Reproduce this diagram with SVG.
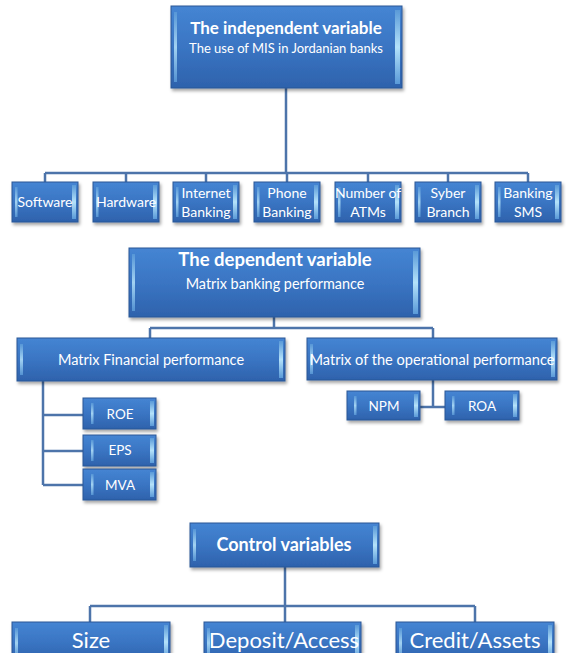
<svg xmlns="http://www.w3.org/2000/svg" width="566" height="653" viewBox="0 0 566 653">
<defs>
<linearGradient id="g" x1="0" y1="0" x2="0" y2="1">
<stop offset="0" stop-color="#4585d3"/>
<stop offset="0.5" stop-color="#3a75c3"/>
<stop offset="1" stop-color="#2e62ac"/>
</linearGradient>
<linearGradient id="side" x1="0" y1="0" x2="0" y2="1">
<stop offset="0" stop-color="#5a9ad8"/>
<stop offset="0.5" stop-color="#b4e2fa"/>
<stop offset="1" stop-color="#5a9ad8"/>
</linearGradient>
<filter id="sh" x="-10%" y="-10%" width="120%" height="130%">
<feDropShadow dx="1.5" dy="2.5" stdDeviation="1.5" flood-color="#000" flood-opacity="0.35"/>
</filter>
</defs>
<style>
.b{fill:url(#g);stroke:#2a5796;stroke-width:1;filter:url(#sh)}
.sl{fill:url(#side);opacity:0.85}
.sr{fill:url(#side)}
.t{fill:#ffffff;font-family:Lato,"Open Sans",sans-serif;text-anchor:middle}
.bold{font-weight:bold}
.c{fill:none;stroke:#4d74aa;stroke-width:2.5}
</style>

<g id="connectors">
<path class="c" d="M286 88V173M45 173H528M45 173V182M126 173V182M206 173V182M287 173V182M368 173V182M448 173V182M528 173V182"/>
<path class="c" d="M274 317V328M150 328H433M150 328V338M433 328V338"/>
<path class="c" d="M43 381V485M43 415H83M43 451H83M43 485H83"/>
<path class="c" d="M433 380V407M420 407H445"/>
<path class="c" d="M285 567V606M90 606H475M90 606V622M285 606V622M475 606V622"/>
</g>

<g id="independent">
<rect class="b" x="171" y="6" width="231" height="82"/>
<rect class="sl" x="174" y="12" width="3" height="70"/>
<rect class="sr" x="395" y="10" width="5" height="74"/>
<text class="t bold" x="286" y="34" font-size="17">The independent variable</text>
<text class="t" x="286" y="53" font-size="13">The use of MIS in Jordanian banks</text>
</g>

<g id="software">
<rect class="b" x="12" y="182" width="66" height="40"/>
<rect class="sl" x="15" y="187" width="2.5" height="30"/>
<rect class="sr" x="72" y="185" width="4" height="34"/>
<text class="t" x="45" y="207" font-size="14">Software</text>
</g>
<g id="hardware">
<rect class="b" x="93" y="182" width="66" height="40"/>
<rect class="sl" x="96" y="187" width="2.5" height="30"/>
<rect class="sr" x="153" y="185" width="4" height="34"/>
<text class="t" x="126" y="207" font-size="14">Hardware</text>
</g>
<g id="internet">
<rect class="b" x="173" y="182" width="66" height="40"/>
<rect class="sl" x="176" y="187" width="2.5" height="30"/>
<rect class="sr" x="233" y="185" width="4" height="34"/>
<text class="t" x="206" y="198" font-size="14">Internet</text>
<text class="t" x="206" y="217" font-size="14">Banking</text>
</g>
<g id="phone">
<rect class="b" x="254" y="182" width="66" height="40"/>
<rect class="sl" x="257" y="187" width="2.5" height="30"/>
<rect class="sr" x="314" y="185" width="4" height="34"/>
<text class="t" x="287" y="198" font-size="14">Phone</text>
<text class="t" x="287" y="217" font-size="14">Banking</text>
</g>
<g id="atms">
<rect class="b" x="335" y="182" width="66" height="40"/>
<rect class="sl" x="338" y="187" width="2.5" height="30"/>
<rect class="sr" x="395" y="185" width="4" height="34"/>
<text class="t" x="368" y="198" font-size="14">Number of</text>
<text class="t" x="368" y="217" font-size="14">ATMs</text>
</g>
<g id="syber">
<rect class="b" x="415" y="182" width="66" height="40"/>
<rect class="sl" x="418" y="187" width="2.5" height="30"/>
<rect class="sr" x="475" y="185" width="4" height="34"/>
<text class="t" x="448" y="198" font-size="14">Syber</text>
<text class="t" x="448" y="217" font-size="14">Branch</text>
</g>
<g id="sms">
<rect class="b" x="495" y="182" width="66" height="40"/>
<rect class="sl" x="498" y="187" width="2.5" height="30"/>
<rect class="sr" x="555" y="185" width="4" height="34"/>
<text class="t" x="528" y="198" font-size="14">Banking</text>
<text class="t" x="528" y="217" font-size="14">SMS</text>
</g>

<g id="dependent">
<rect class="b" x="129" y="248" width="291" height="69"/>
<rect class="sl" x="132" y="254" width="3" height="57"/>
<rect class="sr" x="413" y="251" width="5" height="63"/>
<text class="t bold" x="275" y="266" font-size="18.5">The dependent variable</text>
<text class="t" x="275" y="289" font-size="14.4">Matrix banking performance</text>
</g>

<g id="financial">
<rect class="b" x="17" y="338" width="268" height="43"/>
<rect class="sl" x="20" y="344" width="3" height="31"/>
<rect class="sr" x="279" y="341" width="4" height="37"/>
<text class="t" x="151" y="365" font-size="14.5">Matrix Financial performance</text>
</g>

<g id="operational">
<rect class="b" x="307" y="338" width="250" height="42"/>
<rect class="sl" x="310" y="344" width="3" height="30"/>
<rect class="sr" x="551" y="341" width="4" height="36"/>
<text class="t" x="432" y="365" font-size="14.6">Matrix of the operational performance</text>
</g>

<g id="roe">
<rect class="b" x="83" y="398" width="73" height="31"/>
<rect class="sl" x="91" y="403" width="2.5" height="21"/>
<rect class="sr" x="150" y="401" width="4" height="25"/>
<text class="t" x="120" y="419" font-size="13.5">ROE</text>
</g>
<g id="eps">
<rect class="b" x="83" y="435" width="73" height="31"/>
<rect class="sl" x="91" y="440" width="2.5" height="21"/>
<rect class="sr" x="150" y="438" width="4" height="25"/>
<text class="t" x="120" y="455" font-size="13.5">EPS</text>
</g>
<g id="mva">
<rect class="b" x="83" y="469" width="73" height="31"/>
<rect class="sl" x="91" y="474" width="2.5" height="21"/>
<rect class="sr" x="150" y="472" width="4" height="25"/>
<text class="t" x="120" y="490" font-size="13.5">MVA</text>
</g>

<g id="npm">
<rect class="b" x="347" y="391" width="73" height="29"/>
<rect class="sl" x="354" y="396" width="2.5" height="19"/>
<rect class="sr" x="414" y="394" width="4" height="23"/>
<text class="t" x="384" y="411" font-size="13.5">NPM</text>
</g>
<g id="roa">
<rect class="b" x="445" y="391" width="74" height="29"/>
<rect class="sl" x="452" y="396" width="2.5" height="19"/>
<rect class="sr" x="513" y="394" width="4" height="23"/>
<text class="t" x="482" y="411" font-size="13.5">ROA</text>
</g>

<g id="control">
<rect class="b" x="190" y="523" width="189" height="44"/>
<rect class="sl" x="193" y="529" width="3" height="32"/>
<rect class="sr" x="373" y="526" width="4" height="38"/>
<text class="t bold" x="284" y="551" font-size="18">Control variables</text>
</g>

<g id="size">
<rect class="b" x="12" y="622" width="158" height="40"/>
<rect class="sl" x="15" y="628" width="3" height="30"/>
<rect class="sr" x="164" y="625" width="4" height="34"/>
<text class="t" x="91" y="648" font-size="22">Size</text>
</g>
<g id="deposit">
<rect class="b" x="204" y="622" width="157" height="40"/>
<rect class="sl" x="207" y="628" width="3" height="30"/>
<rect class="sr" x="355" y="625" width="4" height="34"/>
<text class="t" x="284" y="648" font-size="22">Deposit/Access</text>
</g>
<g id="credit">
<rect class="b" x="396" y="622" width="158" height="40"/>
<rect class="sl" x="399" y="628" width="3" height="30"/>
<rect class="sr" x="548" y="625" width="4" height="34"/>
<text class="t" x="475" y="648" font-size="22">Credit/Assets</text>
</g>
</svg>
